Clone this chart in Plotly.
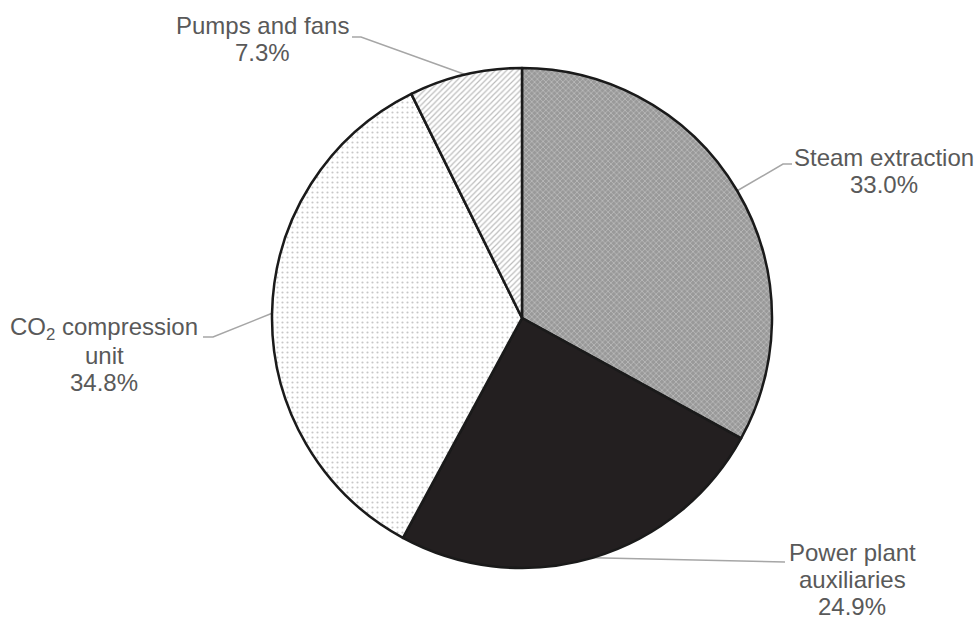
import math
import plotly.graph_objects as go

# ---- data ----
categories = ["Steam extraction", "Power plant auxiliaries", "CO<sub>2</sub> compression unit", "Pumps and fans"]
label_lines = [["Steam extraction"], ["Power plant", "auxiliaries"], ["CO<sub>2</sub> compression", "unit"], ["Pumps and fans"]]
values = [33.0, 24.9, 34.8, 7.3]

# ---- layout / style ----
W, H = 976, 617
CX, CY, R = 522, 318, 250
fill_colors = ["#999999", "#231f20", "#ffffff", "#ffffff"]
pat_shapes = ["x", "", ".", "/"]
pat_fg = ["#efefef", "#231f20", "#8f8f8f", "#7a7a7a"]
pat_size = [4, 8, 5, 4]
pat_solid = [0.3, 0.2, 0.15, 0.3]
# leader-line elbow and end points, first text line centre (pixels)
elbows = [(783, 164), (776, 562), (213, 337), (361, 37)]
ends = [(792, 164), (785, 562), (203, 337), (352, 37)]
text_pos = [(884, 157), (852, 552), (104, 328), (262, 25)]
LINE_STEP = 27
TEXT_COLOR = "#595959"
LINE_COLOR = "#a6a6a6"
FONT = dict(family="Liberation Sans, Arial, sans-serif", size=24, color=TEXT_COLOR)

fig = go.Figure()
fig.add_trace(go.Pie(
    labels=categories, values=values, sort=False, direction="clockwise",
    rotation=0, textinfo="none", hoverinfo="label+percent", showlegend=False,
    marker=dict(colors=fill_colors, line=dict(color="#1a1a1a", width=2.5),
                pattern=dict(shape=pat_shapes, fgcolor=pat_fg, bgcolor=fill_colors,
                             size=pat_size, solidity=pat_solid, fillmode="overlay")),
    domain=dict(x=[(CX - R) / W, (CX + R) / W], y=[1 - (CY + R) / H, 1 - (CY - R) / H]),
))

total = sum(values)
cum = 0.0
annotations = []
for i, v in enumerate(values):
    mid = (cum + v / 2) / total * 2 * math.pi
    cum += v
    ex, ey = CX + R * math.sin(mid), CY - R * math.cos(mid)
    fig.add_trace(go.Scatter(
        x=[ex, elbows[i][0], ends[i][0]], y=[ey, elbows[i][1], ends[i][1]],
        mode="lines", line=dict(color=LINE_COLOR, width=1.5),
        hoverinfo="skip", showlegend=False))
    lines = label_lines[i] + [f"{v:.1f}%"]
    for k, txt in enumerate(lines):
        annotations.append(dict(
            x=text_pos[i][0], y=text_pos[i][1] + k * LINE_STEP, xref="x", yref="y",
            text=txt, showarrow=False, align="center",
            xanchor="center", yanchor="middle", font=FONT))

fig.update_layout(
    width=W, height=H, margin=dict(l=0, r=0, t=0, b=0),
    paper_bgcolor="white", plot_bgcolor="rgba(0,0,0,0)",
    xaxis=dict(range=[0, W], visible=False, domain=[0, 1], fixedrange=True),
    yaxis=dict(range=[H, 0], visible=False, domain=[0, 1], fixedrange=True),
    annotations=annotations,
)
fig.write_html("out.html", config={"displayModeBar": False},
               post_script="document.body.style.margin='0';")
